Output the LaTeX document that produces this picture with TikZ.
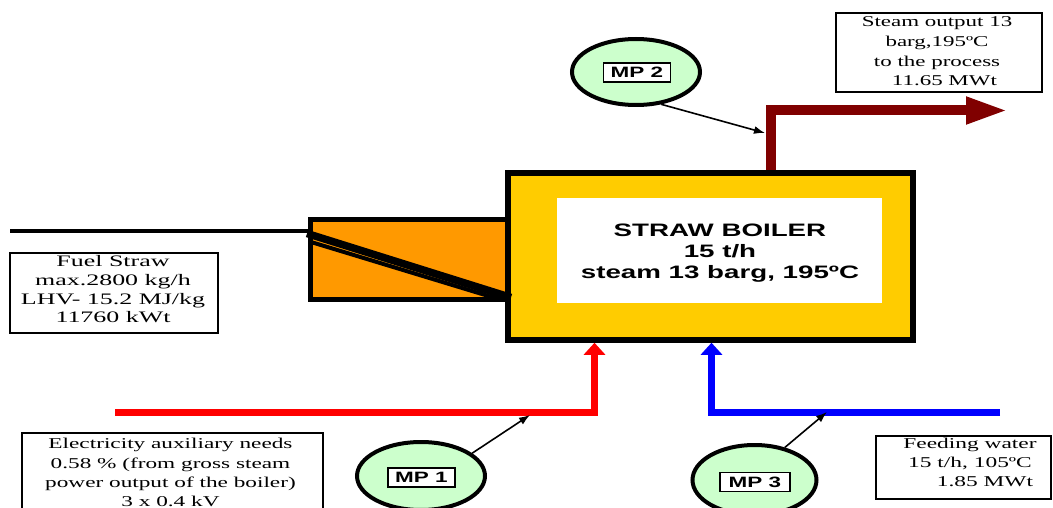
\documentclass[tikz,border=0pt]{standalone}
\usepackage{fontspec}
\setmainfont{Liberation Serif}
\newfontfamily\arialfont{Liberation Sans}
\usepackage{graphicx}
\usetikzlibrary{shapes.geometric,arrows.meta}
\definecolor{boilery}{HTML}{FFCC00}
\definecolor{feedo}{HTML}{FF9900}
\definecolor{steamred}{HTML}{800000}
\definecolor{mpgreen}{HTML}{CCFFCC}
\newcommand{\sx}[2]{\scalebox{#1}[1]{\begin{tabular}{@{}c@{}}#2\end{tabular}}}
\begin{document}
\begin{tikzpicture}[x=1pt,y=-1pt,
  infobox/.style={draw=black, line width=1.3pt, fill=white, inner sep=0pt},
  infotext/.style={inner sep=0pt},
  pipe/.style={line width=7pt, line join=miter, -{Triangle[length=12pt,width=21pt]}},
  steampipe/.style={line width=10pt, line join=miter, draw=steamred, -{Triangle[length=42pt,width=25pt]}},
  mpell/.style={ellipse, draw=black, line width=4pt, fill=mpgreen, inner sep=0pt, minimum width=128pt, minimum height=68pt},
  mplabel/.style={draw=black, line width=1.3pt, fill=white, inner sep=0pt, minimum width=67pt, minimum height=19pt, font=\fontsize{15}{16}\selectfont\arialfont\bfseries},
  mparrow/.style={line width=1.6pt, -{Latex[length=11pt,width=8pt]}}
]
\useasboundingbox (0,0) rectangle (1053,508);

% feeder and boiler
\node[draw=black, line width=5pt, fill=feedo, minimum width=198pt, minimum height=80pt, inner sep=0pt] (feeder) at (409,259.5) {};
\node[draw=black, line width=5.5pt, fill=boilery, minimum width=405pt, minimum height=167pt, inner sep=0pt] (boiler) at (710.5,256.5) {};
\node[fill=white, minimum width=325pt, minimum height=105pt, inner sep=0pt] (boilerin) at (719.5,250.5) {};
\node[infotext, font=\fontsize{18}{21}\selectfont\arialfont\bfseries] (boilertext) at (720,253) {\sx{1.54}{STRAW BOILER\\15 t/h\\steam 13 barg, 195ºC}};

% fuel feed line and chute
\coordinate (fuelstart) at (10,231);
\coordinate (fuelin) at (310,231);
\coordinate (chuteA1) at (307,233.5);
\coordinate (chuteA2) at (511,297.5);
\coordinate (chuteB1) at (311,242);
\coordinate (chuteB2) at (500,299.5);
\draw[line width=4pt] (fuelstart) -- (fuelin);
\draw[line width=7.5pt] (chuteA1) -- (chuteA2);
\draw[line width=4pt] (chuteB1) -- (chuteB2);

% steam output pipe
\coordinate (steambend) at (771,110.5);
\coordinate (steamend) at (1008,110.5);
\draw[steampipe] (steambend |- boiler.north) -- (steambend) -- (steamend);

% electricity line
\coordinate (elecstart) at (115,412);
\coordinate (elecbend) at (594.5,412);
\draw[pipe, draw=red] (elecstart) -- (elecbend) -- (elecbend |- boiler.south);

% feeding water line
\coordinate (fwstart) at (1000,412);
\coordinate (fwbend) at (711.5,412);
\draw[pipe, draw=blue] (fwstart) -- (fwbend) -- (fwbend |- boiler.south);

% info boxes
\node[infobox, minimum width=208pt, minimum height=80pt] (fuelbox) at (114,293) {};
\node[infotext, font=\fontsize{16}{18.7}\selectfont] (fueltext) at (113,291) {\sx{1.62}{Fuel Straw\\max.2800 kg/h\\LHV- 15.2 MJ/kg\\11760 kWt}};

\node[infobox, minimum width=206pt, minimum height=79pt] (steambox) at (939,52.5) {};
\node[infotext, font=\fontsize{15}{19.7}\selectfont] (steamtext) at (937,52.5) {\sx{1.53}{Steam output 13\\barg,195ºC\\to the process\\\hspace*{0.65em}11.65 MWt}};

\node[infobox, minimum width=301pt, minimum height=79pt] (elecbox) at (172.5,472.5) {};
\node[infotext, font=\fontsize{15}{19.3}\selectfont] (electext) at (170.5,474) {\sx{1.55}{Electricity auxiliary needs\\0.58 \% (from gross steam\\power output of the boiler)\\3 x 0.4 kV}};

\node[infobox, minimum width=175pt, minimum height=63pt] (fwbox) at (963.5,467.5) {};
\node[infotext, font=\fontsize{15}{19}\selectfont] (fwtext) at (970,464) {\sx{1.56}{Feeding water\\15 t/h, 105ºC\\\hspace*{1.28em}1.85 MWt}};

% measuring points
\node[mpell] (mp1) at (421,476) {};
\node[mplabel] (mp1label) at (421.5,477.5) {\scalebox{1.5}[1]{MP 1}};
\coordinate (mp1tip) at (530,415);
\draw[mparrow] (mp1.24) -- (mp1tip);

\node[mpell, minimum height=66pt] (mp2) at (636,72) {};
\node[mplabel] (mp2label) at (637,72.5) {\scalebox{1.5}[1]{MP 2}};
\coordinate (mp2tip) at (765,133);
\draw[mparrow] (mp2.-52) -- (mp2tip);

\node[mpell, minimum width=124pt, minimum height=70pt] (mp3) at (754.5,480) {};
\node[mplabel, minimum width=70pt] (mp3label) at (755,482) {\scalebox{1.5}[1]{MP 3}};
\coordinate (mp3tip) at (827,412);
\draw[mparrow] (mp3.47) -- (mp3tip);
\end{tikzpicture}
\end{document}
